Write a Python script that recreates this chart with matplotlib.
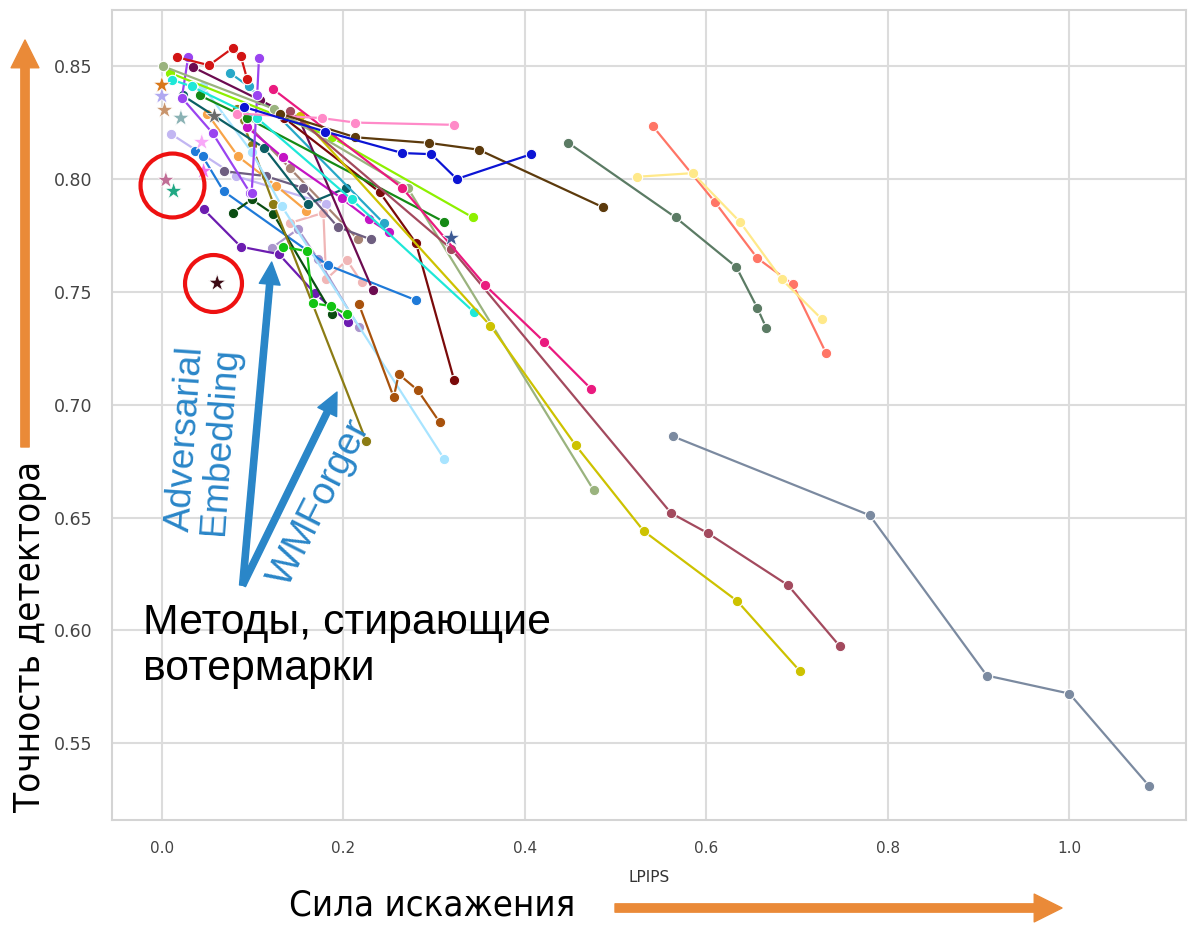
import matplotlib
matplotlib.use("Agg")
import matplotlib.pyplot as plt
from matplotlib import font_manager
from matplotlib.font_manager import FontProperties

# ---------------- data (LPIPS, detector accuracy) ----------------
slate_x = [0.563, 0.780, 0.909, 1.000, 1.088]
slate_y = [0.686, 0.651, 0.580, 0.572, 0.531]
yellow_x = [0.152, 0.362, 0.456, 0.531, 0.634, 0.703]
yellow_y = [0.828, 0.735, 0.682, 0.644, 0.613, 0.582]
rose_x = [0.141, 0.319, 0.561, 0.602, 0.690, 0.747]
rose_y = [0.830, 0.769, 0.652, 0.643, 0.620, 0.593]
sage_x = [0.001, 0.124, 0.271, 0.476]
sage_y = [0.850, 0.831, 0.796, 0.662]
hotpink_x = [0.122, 0.265, 0.356, 0.421, 0.473]
hotpink_y = [0.840, 0.796, 0.753, 0.728, 0.707]
cyan_x = [0.011, 0.033, 0.105, 0.209, 0.344]
cyan_y = [0.844, 0.841, 0.827, 0.791, 0.741]
brown_x = [0.130, 0.213, 0.294, 0.349, 0.486]
brown_y = [0.829, 0.8185, 0.816, 0.813, 0.7875]
blue_x = [0.090, 0.180, 0.265, 0.297, 0.325, 0.407]
blue_y = [0.832, 0.821, 0.8115, 0.811, 0.800, 0.811]
pink_x = [0.083, 0.176, 0.213, 0.322]
pink_y = [0.829, 0.827, 0.825, 0.824]
lime_x = [0.009, 0.187, 0.3425]
lime_y = [0.847, 0.8185, 0.783]
green_x = [0.042, 0.094, 0.311]
green_y = [0.837, 0.827, 0.781]
salmon_x = [0.541, 0.609, 0.656, 0.695, 0.732]
salmon_y = [0.8234, 0.790, 0.765, 0.7534, 0.7228]
lightyellow_x = [0.524, 0.585, 0.637, 0.683, 0.727]
lightyellow_y = [0.801, 0.8026, 0.781, 0.7556, 0.738]
graygreen_x = [0.448, 0.566, 0.633, 0.656, 0.666]
graygreen_y = [0.816, 0.783, 0.761, 0.743, 0.734]
maroon_x = [0.135, 0.240, 0.280, 0.322]
maroon_y = [0.827, 0.7942, 0.7716, 0.711]
rust_x = [0.217, 0.2555, 0.261, 0.282, 0.306]
rust_y = [0.7446, 0.7033, 0.7135, 0.7064, 0.6923]
lightblue_x = [0.045, 0.099, 0.132, 0.311]
lightblue_y = [0.841, 0.812, 0.788, 0.676]
olive_x = [0.083, 0.099, 0.123, 0.225]
olive_y = [0.831, 0.815, 0.789, 0.684]
brightgreen_x = [0.133, 0.160, 0.166, 0.186, 0.204]
brightgreen_y = [0.770, 0.768, 0.745, 0.7437, 0.740]
darkgreen_x = [0.078, 0.099, 0.123, 0.188]
darkgreen_y = [0.785, 0.791, 0.7844, 0.740]
purple_x = [0.046, 0.087, 0.129, 0.1685, 0.205]
purple_y = [0.7866, 0.770, 0.7667, 0.7494, 0.7366]
medblue_x = [0.037, 0.045, 0.068, 0.183, 0.280]
medblue_y = [0.8123, 0.810, 0.7946, 0.7618, 0.7463]
lavender_x = [0.010, 0.0815, 0.181]
lavender_y = [0.820, 0.8013, 0.789]
mauve_x = [0.068, 0.1145, 0.156, 0.194, 0.230]
mauve_y = [0.8035, 0.8013, 0.796, 0.7787, 0.7733]
orange_x = [0.050, 0.084, 0.126, 0.159]
orange_y = [0.829, 0.810, 0.797, 0.786]
darkteal_x = [0.023, 0.113, 0.161, 0.203]
darkteal_y = [0.837, 0.8137, 0.789, 0.796]
violet1_x = [0.107, 0.105, 0.099]
violet1_y = [0.8535, 0.837, 0.794]
violet2_x = [0.029, 0.022, 0.056, 0.097]
violet2_y = [0.854, 0.836, 0.8203, 0.794]
red_x = [0.0165, 0.052, 0.078, 0.087, 0.094]
red_y = [0.854, 0.8504, 0.858, 0.8544, 0.8442]
plum_x = [0.034, 0.108, 0.152, 0.2324]
plum_y = [0.8496, 0.835, 0.826, 0.7508]
magenta_x = [0.094, 0.133, 0.198, 0.228, 0.250]
magenta_y = [0.823, 0.8097, 0.7915, 0.7822, 0.7765]
cerulean_x = [0.075, 0.096, 0.2445]
cerulean_y = [0.847, 0.841, 0.7804]
palepink_x = [0.141, 0.178, 0.181, 0.204, 0.220]
palepink_y = [0.7805, 0.785, 0.7556, 0.764, 0.7543]
lilac_x = [0.121, 0.150, 0.172, 0.217]
lilac_y = [0.7694, 0.7778, 0.7645, 0.7344]
tan_x = [0.090, 0.141, 0.216]
tan_y = [0.826, 0.8048, 0.7733]

series = [
    (tan_x, tan_y, "#a88474"),
    (lavender_x, lavender_y, "#c2b6f2"),
    (palepink_x, palepink_y, "#f0b6b6"),
    (lilac_x, lilac_y, "#aa96cc"),
    (orange_x, orange_y, "#f8a448"),
    (mauve_x, mauve_y, "#6e5e80"),
    (medblue_x, medblue_y, "#1f7ad8"),
    (purple_x, purple_y, "#6c1cb0"),
    (darkgreen_x, darkgreen_y, "#0b4d12"),
    (olive_x, olive_y, "#8c7c14"),
    (lightblue_x, lightblue_y, "#a8e4ff"),
    (brightgreen_x, brightgreen_y, "#12c412"),
    (rust_x, rust_y, "#a8520c"),
    (darkteal_x, darkteal_y, "#0c5e64"),
    (cerulean_x, cerulean_y, "#28a8c8"),
    (magenta_x, magenta_y, "#c414c4"),
    (plum_x, plum_y, "#6c0c50"),
    (violet2_x, violet2_y, "#9a44f0"),
    (violet1_x, violet1_y, "#9a44f0"),
    (maroon_x, maroon_y, "#7a0a0a"),
    (green_x, green_y, "#158a15"),
    (lime_x, lime_y, "#8ef000"),
    (cyan_x, cyan_y, "#1ee8d8"),
    (sage_x, sage_y, "#9ab37e"),
    (yellow_x, yellow_y, "#cdc200"),
    (rose_x, rose_y, "#a34a5e"),
    (hotpink_x, hotpink_y, "#ea1a7f"),
    (pink_x, pink_y, "#ff8ac8"),
    (brown_x, brown_y, "#5c3a0c"),
    (blue_x, blue_y, "#0c14d4"),
    (red_x, red_y, "#d21414"),
    (salmon_x, salmon_y, "#ff7566"),
    (lightyellow_x, lightyellow_y, "#ffe98a"),
    (graygreen_x, graygreen_y, "#5b7b64"),
    (slate_x, slate_y, "#7b8aa0"),
]

star_x = [0.000, 0.000, 0.003, 0.021, 0.044, 0.046, 0.058, 0.0044, 0.013, 0.061, 0.319]
star_y = [0.8367, 0.8416, 0.8305, 0.827, 0.8163, 0.8035, 0.8278, 0.7995, 0.7946, 0.7539, 0.7738]
star_colors = ["#b0a8f0", "#d9781a", "#c8946c", "#8ab2b4", "#f8a8f8", "#f070f0",
               "#6a6a6a", "#c06e96", "#20a884", "#3c0a14", "#3c5a94"]

xticks = [0.0, 0.2, 0.4, 0.6, 0.8, 1.0]
yticks = [0.55, 0.60, 0.65, 0.70, 0.75, 0.80, 0.85]

# ---------------- fonts ----------------
names = {f.name for f in font_manager.fontManager.ttflist}
sans = "Liberation Sans" if "Liberation Sans" in names else "DejaVu Sans"

narrow_fp = None
for pref in ["Liberation Sans Narrow", "DejaVu Sans Condensed", "Roboto Condensed",
             "Open Sans Condensed", "Noto Sans Condensed"]:
    for f in font_manager.fontManager.ttflist:
        if (f.name == pref or pref.replace(" ", "") in f.fname.replace(" ", "").replace("-", "")) \
                and f.style == "normal" and f.weight in (400, "normal", "regular"):
            narrow_fp = FontProperties(fname=f.fname)
            break
    if narrow_fp is not None:
        break
if narrow_fp is None:
    fp = FontProperties(family="DejaVu Sans", stretch="condensed")
    path = font_manager.findfont(fp)
    if "Condensed" in path:
        narrow_fp = FontProperties(fname=path)
if narrow_fp is None:
    narrow_fp = FontProperties(family=sans)

# ---------------- figure ----------------
fig = plt.figure(figsize=(11.9, 9.26), dpi=100)
ax = fig.add_axes([0.094, 0.1145, 0.903, 0.8745])
ax.set_facecolor("white")

for x, y, c in series:
    ax.plot(x, y, "-o", color=c, lw=1.6, ms=7.5, mec="white", mew=0.8, zorder=3)

ax.scatter(star_x, star_y, marker="*", s=170, c=star_colors, edgecolors="white",
           linewidths=0.5, zorder=4)

ax.set_xlim(-0.0551, 1.129)
ax.set_ylim(0.516, 0.8748)
ax.set_xticks(xticks)
ax.set_yticks(yticks)
ax.set_xticklabels([f"{v:.1f}" for v in xticks])
ax.set_yticklabels([f"{v:.2f}" for v in yticks])
ax.grid(True, color="#dcdcdc", lw=1.5, zorder=0)
ax.set_axisbelow(True)
for s in ax.spines.values():
    s.set_color("#d4d4d4")
    s.set_linewidth(1.5)
ax.tick_params(axis="x", length=0, pad=15, labelsize=11, labelcolor="#444444")
ax.tick_params(axis="y", length=0, pad=14, labelsize=12.5, labelcolor="#444444")
ax.set_xlabel("LPIPS", fontsize=11, color="#333333", labelpad=10)

# ---------------- annotations ----------------
ax.plot([0.011], [0.7973], "o", ms=46, mfc="none", mec="#ee1111", mew=3, zorder=6)
ax.plot([0.056], [0.7539], "o", ms=41, mfc="none", mec="#ee1111", mew=3, zorder=6)

blue = "#2a86c8"
ax.annotate("", xy=(0.121, 0.7632), xytext=(0.089, 0.620),
            arrowprops=dict(color=blue, width=4.5, headwidth=15, headlength=16, shrink=0),
            zorder=6)
ax.annotate("", xy=(0.193, 0.7056), xytext=(0.089, 0.620),
            arrowprops=dict(color=blue, width=4.5, headwidth=15, headlength=16, shrink=0),
            zorder=6)

renderer = fig.canvas.get_renderer()


def fit(t, target_px, rotation):
    """scale font so that the unrotated text width equals target_px, then rotate"""
    t.set_rotation(0)
    w = t.get_window_extent(renderer=renderer).width
    t.set_fontsize(t.get_fontsize() * target_px / w)
    t.set_rotation(rotation)


t1 = fig.text(203 / 1190, 1 - 440 / 926, "Adversarial\nEmbedding",
              rotation_mode="anchor", ha="center", va="center", fontsize=24,
              color=blue, family=sans, linespacing=1.0)
fit(t1, 188, 86)
t2 = fig.text(320 / 1190, 1 - 503 / 926, "WMForger",
              rotation_mode="anchor", ha="center", va="center", fontsize=24,
              color=blue, family=sans)
fit(t2, 182, 63)
t3 = fig.text(143 / 1190, 1 - 603 / 926, "Методы, стирающие\nвотермарки",
              ha="left", va="top", fontsize=30, color="black", family=sans,
              linespacing=1.2)
fit(t3, 407, 0)

orange = "#ea8a38"
t4 = fig.text(30 / 1190, 1 - 636 / 926, "Точность детектора",
              ha="center", va="center", fontproperties=narrow_fp, color="black")
t4.set_fontsize(30)
fit(t4, 350, 90)
t5 = fig.text(432 / 1190, 1 - 906 / 926, "Сила искажения",
              ha="center", va="center", fontproperties=narrow_fp, color="black")
t5.set_fontsize(30)
fit(t5, 285, 0)

ax.annotate("", xy=(25, 926 - 40), xycoords="figure pixels",
            xytext=(25, 926 - 447), textcoords="figure pixels",
            arrowprops=dict(color=orange, width=6, headwidth=20, headlength=20, shrink=0),
            annotation_clip=False)
ax.annotate("", xy=(1062, 926 - 908), xycoords="figure pixels",
            xytext=(615, 926 - 908), textcoords="figure pixels",
            arrowprops=dict(color=orange, width=6, headwidth=20, headlength=20, shrink=0),
            annotation_clip=False)

fig.savefig("out.png", dpi=100, facecolor="white")
